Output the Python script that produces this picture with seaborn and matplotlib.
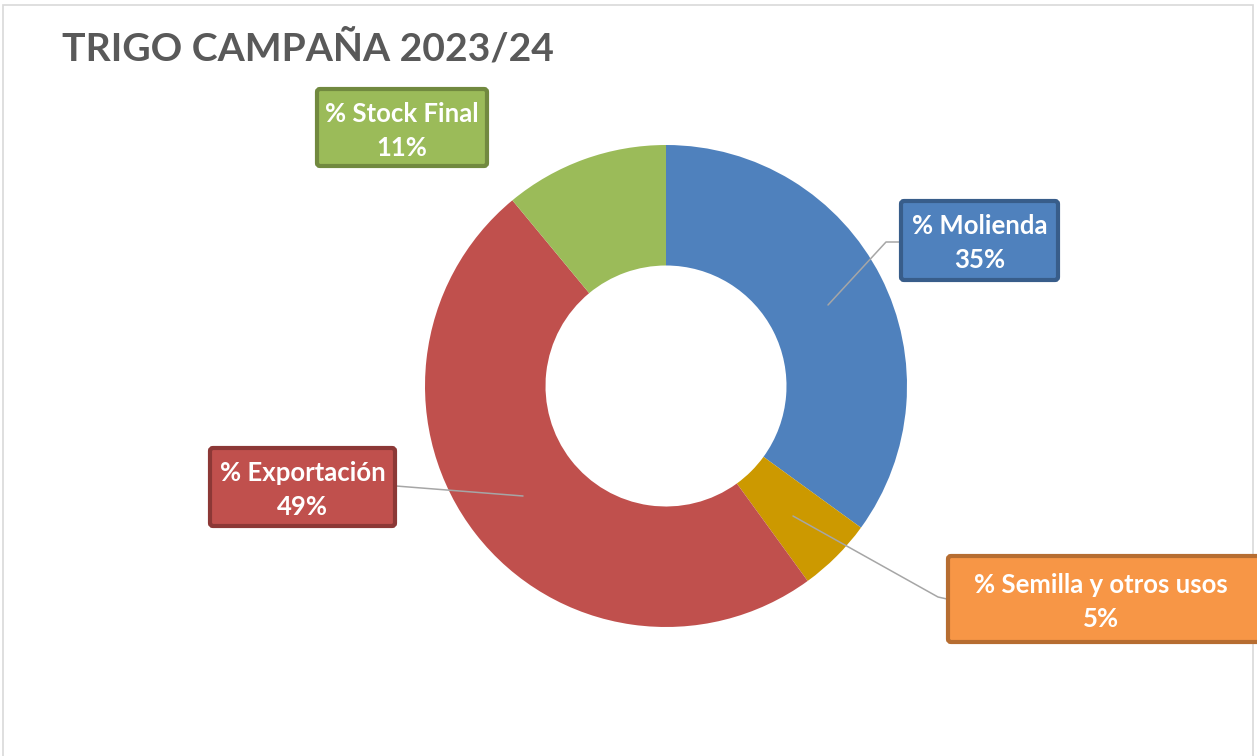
import matplotlib
matplotlib.use("Agg")
import matplotlib.pyplot as plt
import seaborn as sns
from matplotlib.patches import FancyBboxPatch, Rectangle

# ---- data ----
categories = ["% Molienda", "% Semilla y otros usos", "% Exportación", "% Stock Final"]
values = [35, 5, 49, 11]
pct_labels = ["35%", "5%", "49%", "11%"]
slice_colors = ["#4F81BD", "#CC9900", "#C0504D", "#9BBB59"]
box_fill = ["#4F81BD", "#F79646", "#C0504D", "#9BBB59"]
box_edge = ["#385D8A", "#B66D31", "#8C3836", "#71893F"]
title = "TRIGO CAMPAÑA 2023/24"

sns.set_theme(style="white")
plt.rcParams["font.family"] = ["Lato", "DejaVu Sans"]

W, H = 1257, 756
fig = plt.figure(figsize=(W / 100, H / 100), dpi=100)
ax = fig.add_axes([0, 0, 1, 1])
ax.set_xlim(0, W)
ax.set_ylim(0, H)
ax.set_aspect("equal")
ax.axis("off")


def Y(y):
    return H - y


# chart border
ax.add_patch(Rectangle((3, Y(760)), 1250, 755, fill=False, edgecolor="#D9D9D9", lw=1.2))

# donut
cx, cy, R = 666, 386, 241
ax.pie(values, colors=slice_colors, startangle=90, counterclock=False,
       center=(cx, Y(cy)), radius=R, frame=True,
       wedgeprops=dict(width=R * 0.5, edgecolor="none"))
ax.set_xlim(0, W)
ax.set_ylim(0, H)
ax.axis("off")

# leader lines (layout)
leader = [
    [(828, 305), (886, 242), (900, 242)],
    [(793, 516), (938, 597), (947, 599)],
    [(523, 496), (396, 486)],
]
for pts in leader:
    ax.plot([p[0] for p in pts], [Y(p[1]) for p in pts], color="#A6A6A6", lw=1.1, zorder=3)

# label boxes (x0, y0, x1, y1 in pixels)
boxes = [(901, 201, 1058, 280), (948, 556, 1262, 642), (210, 448, 395, 526), (317, 89, 487, 166)]
for i, (x0, y0, x1, y1) in enumerate(boxes):
    ax.add_patch(FancyBboxPatch((x0, Y(y1)), x1 - x0, y1 - y0,
                                boxstyle="round,pad=0,rounding_size=3",
                                facecolor=box_fill[i], edgecolor=box_edge[i], lw=3, zorder=4))
    ax.text((x0 + min(x1, 1253)) / 2, Y((y0 + y1) / 2 + 3), f"{categories[i]}\n{pct_labels[i]}",
            ha="center", va="center", color="white", fontsize=18.5, fontweight="bold",
            linespacing=1.5, zorder=5)

# title
ax.text(62, Y(48), title, ha="left", va="center", color="#595959",
        fontsize=28.2, fontweight="bold")

fig.savefig("out.png", dpi=100, facecolor="white")
